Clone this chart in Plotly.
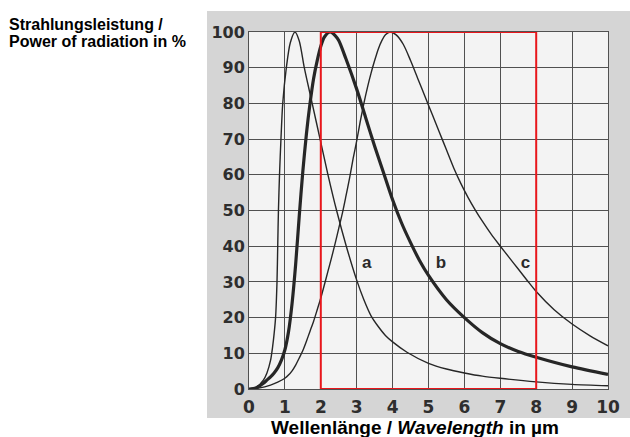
import plotly.graph_objects as go

# ---- data ----
a_x = [0, 0.2, 0.4, 0.5, 0.6, 0.66, 0.7, 0.74, 0.78, 0.80, 0.82, 0.85, 0.89, 0.94, 1.04, 1.15, 1.28,
       1.40, 1.54, 1.76, 1.98, 2.20, 2.44, 2.71, 3.0, 3.2, 3.4, 3.6, 3.8, 4.0, 4.4, 5.0, 5.5, 6.0, 6.5, 7.0,
       8.0, 9.0, 10.0]
a_y = [0, 0.5, 2.5, 4.5, 8, 12, 15.5, 20, 30, 40, 50, 60, 70, 80, 90, 97, 100,
       97.5, 90, 80, 70, 60, 50, 40, 30.5, 25, 20.5, 17.5, 15, 13.2, 10.3, 7.2, 5.6, 4.5, 3.6, 3.0,
       2.0, 1.3, 0.9]

b_x = [0, 0.2, 0.4, 0.5, 0.6, 0.7, 0.8, 0.9, 1.0, 1.1, 1.2, 1.3, 1.4, 1.5, 1.6, 1.7, 1.8, 1.9, 2.0, 2.1,
       2.26, 2.4, 2.5, 2.7, 3.0, 3.25, 3.5, 3.75, 4.0, 4.25, 4.5, 4.75, 5.0, 5.5, 6.0, 6.5, 7.0, 7.5,
       8.0, 9.0, 10.0]
b_y = [0, 0.3, 1.6, 2.5, 3.4, 4.5, 5.9, 8, 11, 16, 24, 35, 48.5, 61, 71.5, 80, 87, 92, 96, 98.6,
       100, 99, 97.6, 92.5, 84, 76, 68, 60.5, 53, 46.5, 41, 36, 31.8, 25, 20, 15.8, 12.7, 10.5,
       8.9, 6.2, 4.1]

c_x = [0, 0.3, 0.6, 0.8, 1.0, 1.1, 1.2, 1.3, 1.4, 1.5, 1.6, 1.7, 1.8, 1.9, 2.0, 2.1, 2.2, 2.3, 2.4, 2.5,
       2.6, 2.7, 2.8, 2.9, 3.0, 3.1, 3.2, 3.3, 3.4, 3.5, 3.6, 3.7, 3.8, 3.93,
       4.1, 4.3, 4.5, 4.7, 4.9, 5.1, 5.3, 5.5, 5.7, 5.9, 6.1, 6.3, 6.5, 6.75, 7.0, 7.25, 7.5, 7.75,
       8.0, 8.5, 9.0, 9.5, 10.0]
c_y = [0, 0.3, 1.1, 1.9, 3, 3.9, 5.1, 6.7, 8.7, 10.8, 13.4, 16.2, 19, 22.2, 25.5, 29.2, 33, 36.8, 40.8, 45,
       49.2, 54, 59, 64.5, 69.5, 75, 80, 84.5, 88.5, 92, 95.2, 97.6, 99.2, 100,
       99.2, 96.5, 92, 87, 82, 77, 72, 67, 62, 57.6, 53.7, 50.2, 47, 43.3, 40, 36.8, 33.6, 30.4,
       27.3, 22.2, 18.2, 14.9, 12.1]

curve_labels = ["<b>a</b>", "<b>b</b>", "<b>c</b>"]
label_x = [3.28, 5.35, 7.7]
label_y = [35, 35, 35]

highlight_x = [2, 8]
highlight_y = [0, 100]

x_ticks = list(range(0, 11))
y_ticks = list(range(0, 101, 10))

# ---- figure ----
fig = go.Figure()
curve_col = "#262626"
for xs, ys, w in [(a_x, a_y, 1.4), (b_x, b_y, 3.2), (c_x, c_y, 1.4)]:
    fig.add_trace(go.Scatter(x=xs, y=ys, mode="lines",
                             line=dict(color=curve_col, width=w, shape="spline", smoothing=0.8),
                             showlegend=False, hoverinfo="skip"))

fig.add_trace(go.Scatter(x=label_x, y=label_y, mode="text", text=curve_labels,
                         textfont=dict(family="Liberation Sans, Arial", size=17, color="#2a2a2a"),
                         showlegend=False, hoverinfo="skip"))

L, R, T, B = 249, 22, 32, 48
W, H = 630, 437
pw, ph = W - L - R, H - T - B

def px(p):
    return (p - L) / pw

def py(p):
    return (H - B - p) / ph

shapes = [
    dict(type="rect", xref="paper", yref="paper", x0=px(207), x1=px(632), y0=py(418), y1=py(11),
         fillcolor="#d5d5d5", line=dict(width=0), layer="below"),
    dict(type="rect", xref="paper", yref="paper", x0=0, x1=1, y0=0, y1=1,
         fillcolor="#f3f3f3", line=dict(width=0), layer="below"),
    dict(type="rect", xref="x", yref="y", x0=highlight_x[0], x1=highlight_x[1],
         y0=highlight_y[0], y1=highlight_y[1], line=dict(color="#e8161b", width=2), layer="above"),
]

title_font = dict(family="Liberation Sans, Arial", size=16, color="#000000")
annotations = [
    dict(text="<b>Strahlungsleistung /</b>", xref="paper", yref="paper", x=px(7), y=py(24),
         xanchor="left", yanchor="middle", showarrow=False, font=title_font),
    dict(text="<b>Power of radiation in %</b>", xref="paper", yref="paper", x=px(7), y=py(41),
         xanchor="left", yanchor="middle", showarrow=False, font=title_font),
    dict(text="<b>Wellenlänge / <i>Wavelength</i> in µm</b>", xref="paper", yref="paper",
         x=px(415), y=py(440), xanchor="center", yanchor="bottom", showarrow=False,
         font=dict(family="Liberation Sans, Arial", size=19, color="#000000")),
]

tick_font = dict(family="DejaVu Sans", size=16, color="#2e2e2e")
fig.update_layout(
    width=W, height=H,
    margin=dict(l=L, r=R, t=T, b=B),
    paper_bgcolor="white",
    plot_bgcolor="rgba(0,0,0,0)",
    shapes=shapes,
    annotations=annotations,
    xaxis=dict(range=[0, 10], tickvals=x_ticks, ticktext=[f"<b>{v}</b>" for v in x_ticks],
               showgrid=True, gridcolor="#505050", gridwidth=1, zeroline=False,
               showline=True, mirror=True, linecolor="#505050", linewidth=1,
               ticks="", tickfont=dict(family="DejaVu Sans", size=17, color="#2e2e2e"),
               ticklabelstandoff=3, fixedrange=True, automargin=False),
    yaxis=dict(range=[0, 100], tickvals=y_ticks, ticktext=[f"<b>{v}</b>" for v in y_ticks],
               showgrid=True, gridcolor="#505050", gridwidth=1, zeroline=False,
               showline=True, mirror=True, linecolor="#505050", linewidth=1,
               ticks="", tickfont=tick_font, fixedrange=True, automargin=False),
)

fig.write_html("out.html", config={"displayModeBar": False},
               post_script="document.body.style.margin='0px';document.body.style.overflow='hidden';")
